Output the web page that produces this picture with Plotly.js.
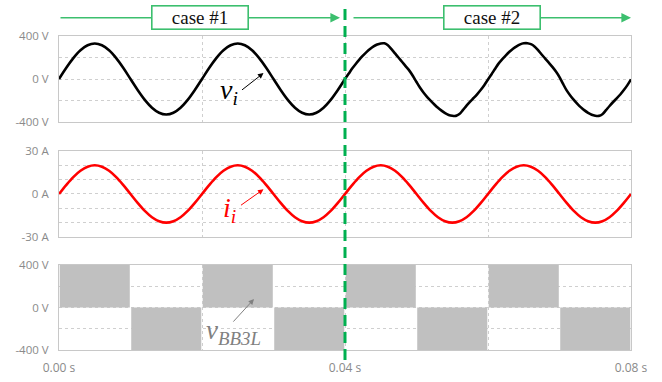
<!DOCTYPE html>
<html>
<head>
<meta charset="utf-8">
<script src="https://cdn.plot.ly/plotly-3.0.1.min.js"></script>
<style>html,body{margin:0;padding:0;background:#fff;}#chart{width:662px;height:382px;}</style>
</head>
<body>
<div id="chart"></div>
<script>
// ---- data ----
// case #1 input voltage v_i (1 ms steps, 0 .. 0.04 s)
const vT1 = [0,0.001,0.002,0.003,0.004,0.005,0.006,0.007,0.008,0.009,0.010,0.011,0.012,0.013,0.014,0.015,0.016,0.017,0.018,0.019,0.020,
             0.021,0.022,0.023,0.024,0.025,0.026,0.027,0.028,0.029,0.030,0.031,0.032,0.033,0.034,0.035,0.036,0.037,0.038,0.039,0.040];
const vCase1 = [0,102,194,267,314,330,314,267,194,102,0,-102,-194,-267,-314,-330,-314,-267,-194,-102,
                0,102,194,267,314,330,314,267,194,102,0,-102,-194,-267,-314,-330,-314,-267,-194,-102,0];
// case #2 input voltage v_i (0.5 ms steps, 0.04 .. 0.08 s)
const vT2 = [0.0400,0.0405,0.0410,0.0415,0.0420,0.0425,0.0430,0.0435,0.0440,0.0445,0.0450,0.0455,0.0460,0.0465,0.0470,0.0475,0.0480,0.0485,0.0490,0.0495,
             0.0500,0.0505,0.0510,0.0515,0.0520,0.0525,0.0530,0.0535,0.0540,0.0545,0.0550,0.0555,0.0560,0.0565,0.0570,0.0575,0.0580,0.0585,0.0590,0.0595,
             0.0600,0.0605,0.0610,0.0615,0.0620,0.0625,0.0630,0.0635,0.0640,0.0645,0.0650,0.0655,0.0660,0.0665,0.0670,0.0675,0.0680,0.0685,0.0690,0.0695,
             0.0700,0.0705,0.0710,0.0715,0.0720,0.0725,0.0730,0.0735,0.0740,0.0745,0.0750,0.0755,0.0760,0.0765,0.0770,0.0775,0.0780,0.0785,0.0790,0.0795,0.0800];
const vCase2 = [0,48,97,140,180,217,250,279,303,321,331,332,314,278,238,198,158,118,78,28,
                -28,-82,-128,-168,-203,-237,-268,-294,-318,-334,-342,-343,-326,-288,-247,-210,-176,-140,-100,-55,
                -5,45,96,145,184,220,253,281,304,322,332,333,324,303,268,228,190,152,113,70,
                18,-46,-106,-153,-194,-231,-264,-292,-315,-332,-341,-343,-328,-290,-251,-214,-180,-144,-103,-57,-3];
// input current i_i (1 ms steps, 0 .. 0.08 s)
const iT = [0,0.001,0.002,0.003,0.004,0.005,0.006,0.007,0.008,0.009,0.010,0.011,0.012,0.013,0.014,0.015,0.016,0.017,0.018,0.019,
            0.020,0.021,0.022,0.023,0.024,0.025,0.026,0.027,0.028,0.029,0.030,0.031,0.032,0.033,0.034,0.035,0.036,0.037,0.038,0.039,
            0.040,0.041,0.042,0.043,0.044,0.045,0.046,0.047,0.048,0.049,0.050,0.051,0.052,0.053,0.054,0.055,0.056,0.057,0.058,0.059,
            0.060,0.061,0.062,0.063,0.064,0.065,0.066,0.067,0.068,0.069,0.070,0.071,0.072,0.073,0.074,0.075,0.076,0.077,0.078,0.079,0.080];
const iVals = [0,6.2,11.8,16.2,19.0,20,19.0,16.2,11.8,6.2,0,-6.2,-11.8,-16.2,-19.0,-20,-19.0,-16.2,-11.8,-6.2,
               0,6.2,11.8,16.2,19.0,20,19.0,16.2,11.8,6.2,0,-6.2,-11.8,-16.2,-19.0,-20,-19.0,-16.2,-11.8,-6.2,
               0,6.2,11.8,16.2,19.0,20,19.0,16.2,11.8,6.2,0,-6.2,-11.8,-16.2,-19.0,-20,-19.0,-16.2,-11.8,-6.2,
               0,6.2,11.8,16.2,19.0,20,19.0,16.2,11.8,6.2,0,-6.2,-11.8,-16.2,-19.0,-20,-19.0,-16.2,-11.8,-6.2,0];
// v_BB3L switching envelope: centre of each 10 ms block and its level
const bbT = [0.005,0.015,0.025,0.035,0.045,0.055,0.065,0.075];
const bbLevel = [400,-400,400,-400,400,-400,400,-400];

// tick labels
const xTickVals = [0,0.04,0.08];
const xTickText = ['0.00 s','0.04 s','0.08 s'];
const vTickVals = [-400,0,400];
const vTickText = ['-400 V','0 V','400 V'];
const iTickVals = [-30,0,30];
const iTickText = ['-30 A','0 A','30 A'];
const caseLabels = ['case #1','case #2'];

// ---- styling ----
const GRID = '#cfcfcf';
const FRAME = '#c8c8c8';
const YTICKFONT = {family:'Open Sans, sans-serif', size:11.5, color:'#8a8a8a'};
const XTICKFONT = {family:'Open Sans, sans-serif', size:12, color:'#8a8a8a'};
const GREEN = '#3cbf6e';
const DASHGREEN = '#00b050';

function xAx(anchor, labels){
  return {anchor:anchor, range:[0,0.08], tickmode:'array', tickvals:xTickVals, ticktext:xTickText,
    showticklabels:labels, ticks:'', ticklabelstandoff:7, tickfont:XTICKFONT,
    showgrid:true, gridcolor:GRID, griddash:'dot', gridwidth:1,
    minor:{tick0:0, dtick:0.02, showgrid:true, gridcolor:GRID, griddash:'dot', gridwidth:1, ticks:''},
    zeroline:false, showline:true, mirror:true, linecolor:FRAME, linewidth:1, fixedrange:true};
}
function yAx(domain, anchor, rng, tv, tt, minorStep){
  return {domain:domain, anchor:anchor, range:rng, tickmode:'array', tickvals:tv, ticktext:tt,
    ticks:'', ticklabelstandoff:7, tickfont:YTICKFONT,
    showgrid:true, gridcolor:GRID, griddash:'dot', gridwidth:1,
    minor:{tick0:0, dtick:minorStep, showgrid:true, gridcolor:GRID, griddash:'dot', gridwidth:1, ticks:''},
    zeroline:false, showline:true, mirror:true, linecolor:FRAME, linewidth:1, fixedrange:true};
}

const traces = [
  {x:bbT, y:bbLevel, base:0, width:0.0098, type:'bar', xaxis:'x', yaxis:'y3',
   marker:{color:'#c0c0c0', line:{width:0}}, hoverinfo:'skip'},
  {x:iT, y:iVals, type:'scatter', mode:'lines', xaxis:'x3', yaxis:'y2',
   line:{color:'#ff0000', width:2.6, shape:'spline'}, hoverinfo:'skip'},
  {x:vT1, y:vCase1, type:'scatter', mode:'lines', xaxis:'x2', yaxis:'y',
   line:{color:'#000000', width:2.6, shape:'spline'}, hoverinfo:'skip'},
  {x:vT2, y:vCase2, type:'scatter', mode:'lines', xaxis:'x2', yaxis:'y',
   line:{color:'#000000', width:2.6, shape:'spline', smoothing:0.8}, hoverinfo:'skip'}
];

const serif = 'Liberation Serif, Times New Roman, serif';
const annotations = [
  // green case arrows
  {xref:'x', yref:'paper', x:0.0393, y:1.058, ax:-281, ay:0, text:'', showarrow:true,
   arrowhead:2, arrowsize:1.2, arrowwidth:1.6, arrowcolor:GREEN},
  {xref:'x', yref:'paper', x:0.0800, y:1.058, ax:-279, ay:0, text:'', showarrow:true,
   arrowhead:2, arrowsize:1.2, arrowwidth:1.6, arrowcolor:GREEN},
  // case boxes
  {xref:'x', yref:'paper', x:0.01965, y:1.058, text:caseLabels[0], showarrow:false,
   font:{family:serif, size:19, color:'#111'}, bgcolor:'#ffffff', bordercolor:GREEN, borderwidth:1.6,
   borderpad:1, width:93, height:20, xanchor:'center', yanchor:'middle'},
  {xref:'x', yref:'paper', x:0.0605, y:1.058, text:caseLabels[1], showarrow:false,
   font:{family:serif, size:19, color:'#111'}, bgcolor:'#ffffff', bordercolor:GREEN, borderwidth:1.6,
   borderpad:1, width:93, height:20, xanchor:'center', yanchor:'middle'},
  // v_i label + arrow
  {xref:'x2', yref:'y', x:0.02378, y:-115, text:'<i>v<sub>i</sub></i>', showarrow:false,
   font:{family:serif, size:28, color:'#000'}, xanchor:'center', yanchor:'middle'},
  {xref:'x2', yref:'y', x:0.0286, y:55, ax:-23, ay:18, text:'', showarrow:true,
   arrowhead:2, arrowsize:1.1, arrowwidth:1, arrowcolor:'#000'},
  // i_i label + arrow
  {xref:'x3', yref:'y2', x:0.02378, y:-11, text:'<i>i<sub>i</sub></i>', showarrow:false,
   font:{family:serif, size:28, color:'#ff0000'}, xanchor:'center', yanchor:'middle'},
  {xref:'x3', yref:'y2', x:0.0286, y:3.3, ax:-24, ay:17, text:'', showarrow:true,
   arrowhead:2, arrowsize:1.1, arrowwidth:1, arrowcolor:'#ff0000'},
  // v_BB3L label + arrow
  {xref:'x', yref:'y3', x:0.02434, y:-235, text:'<i>v<sub>BB3L</sub></i>', showarrow:false,
   font:{family:serif, size:27, color:'#808080'}, xanchor:'center', yanchor:'middle'},
  {xref:'x', yref:'y3', x:0.02727, y:79, ax:-22, ay:24, text:'', showarrow:true,
   arrowhead:2, arrowsize:1.1, arrowwidth:1, arrowcolor:'#808080'}
];

const layout = {
  width:662, height:382, autosize:false,
  margin:{l:59, r:31, t:36, b:32, pad:0},
  paper_bgcolor:'#ffffff', plot_bgcolor:'#ffffff',
  showlegend:false, barmode:'overlay',
  xaxis:xAx('y3', true),
  xaxis2:Object.assign(xAx('y', false), {matches:'x'}),
  xaxis3:Object.assign(xAx('y2', false), {matches:'x'}),
  yaxis:yAx([0.7261,1], 'x2', [-400,400], vTickVals, vTickText, 200),
  yaxis2:yAx([0.3599,0.6338], 'x3', [-30,30], iTickVals, iTickText, 10),
  yaxis3:yAx([0,0.2707], 'x', [-400,400], vTickVals, vTickText, 200),
  shapes:[
    {type:'line', xref:'x', yref:'paper', x0:0.04, x1:0.04, y0:-0.032, y1:1.105,
     line:{color:DASHGREEN, width:3, dash:'11px,6px'}, layer:'above'}
  ],
  annotations:annotations
};

Plotly.newPlot('chart', traces, layout, {staticPlot:true, displayModeBar:false});
</script>
</body>
</html>
